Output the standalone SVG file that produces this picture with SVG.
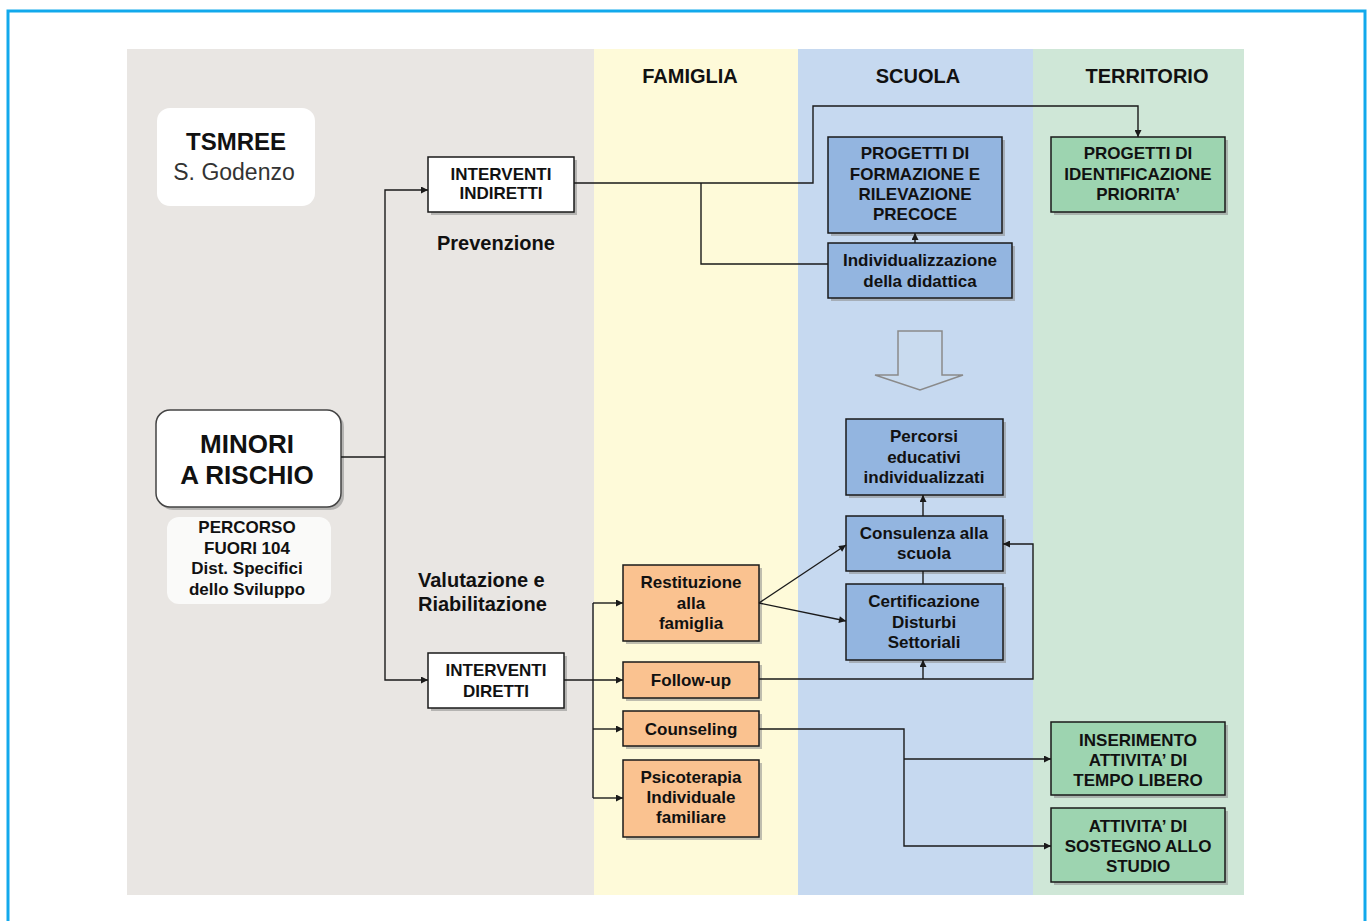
<svg xmlns="http://www.w3.org/2000/svg" width="1370" height="921" viewBox="0 0 1370 921">
<defs>
<marker id="ah" viewBox="0 0 10 10" refX="10" refY="5" markerWidth="8" markerHeight="7" orient="auto" markerUnits="userSpaceOnUse"><path d="M0,0 L10,5 L0,10 z" fill="#1a1a1a"/></marker>
<style>
.t{font-family:"Liberation Sans",Arial,sans-serif;font-weight:bold;fill:#111;text-anchor:middle}
.h{font-size:20px}
.b{font-size:17px}
.sh{fill:#8a8a8a;opacity:0.55}
.box{stroke:#1a1a1a;stroke-width:1.5}
.w{fill:#fff}
.bl{fill:#93B5E0}
.or{fill:#FAC290}
.gr{fill:#9DD4B0}
.c{fill:none;stroke:#1a1a1a;stroke-width:1.4}
.ca{fill:none;stroke:#1a1a1a;stroke-width:1.4;marker-end:url(#ah)}
</style>
</defs>
<rect x="0" y="0" width="1370" height="921" fill="#fff"/>
<rect x="8" y="11" width="1357" height="915" fill="none" stroke="#12A9EC" stroke-width="3"/>
<g id="lanes">
<rect x="127" y="49" width="467" height="846" fill="#E9E6E3"/>
<rect x="594" y="49" width="204" height="846" fill="#FEFAD9"/>
<rect x="798" y="49" width="235" height="846" fill="#C6D9F0"/>
<rect x="1033" y="49" width="211" height="846" fill="#CFE7D7"/>
<text class="t h" x="690" y="83">FAMIGLIA</text>
<text class="t h" x="918" y="83">SCUOLA</text>
<text class="t h" x="1147" y="83">TERRITORIO</text>
</g>
<g id="tsmree">
<rect x="157" y="108" width="158" height="98" rx="13" fill="#fff"/>
<text class="t" x="236" y="150" font-size="24">TSMREE</text>
<text class="t" x="234" y="180" font-size="23" font-weight="normal" style="font-weight:normal;fill:#333">S. Godenzo</text>
</g>
<g id="minori">
<rect x="159" y="413" width="185" height="97" rx="14" class="sh"/>
<rect x="156" y="410" width="185" height="97" rx="14" fill="#fff" stroke="#444" stroke-width="1.5"/>
<text class="t" x="247" y="453" font-size="26">MINORI</text>
<text class="t" x="247" y="484" font-size="26">A RISCHIO</text>
</g>
<g id="percorso">
<rect x="167" y="517" width="164" height="87" rx="12" fill="#FAFAF9"/>
<text class="t b" x="247" y="533">PERCORSO</text>
<text class="t b" x="247" y="554">FUORI 104</text>
<text class="t b" x="247" y="574">Dist. Specifici</text>
<text class="t b" x="247" y="595">dello Sviluppo</text>
</g>
<g id="labels">
<text class="t h" x="437" y="250" style="text-anchor:start">Prevenzione</text>
<text class="t h" x="418" y="587" style="text-anchor:start">Valutazione e</text>
<text class="t h" x="418" y="611" style="text-anchor:start">Riabilitazione</text>
</g>
<g id="interventi-indiretti">
<rect x="431" y="160" width="146" height="55" class="sh"/>
<rect x="428" y="157" width="146" height="55" class="box w"/>
<text class="t b" x="501" y="180">INTERVENTI</text>
<text class="t b" x="501" y="199">INDIRETTI</text>
</g>
<g id="interventi-diretti">
<rect x="431" y="656" width="136" height="55" class="sh"/>
<rect x="428" y="653" width="136" height="55" class="box w"/>
<text class="t b" x="496" y="676">INTERVENTI</text>
<text class="t b" x="496" y="697">DIRETTI</text>
</g>
<g id="progetti-formazione">
<rect x="831" y="140" width="174" height="96" class="sh"/>
<rect x="828" y="137" width="174" height="96" class="box bl"/>
<text class="t b" x="915" y="159">PROGETTI DI</text>
<text class="t b" x="915" y="180">FORMAZIONE E</text>
<text class="t b" x="915" y="200">RILEVAZIONE</text>
<text class="t b" x="915" y="220">PRECOCE</text>
</g>
<g id="individualizzazione">
<rect x="831" y="246" width="184" height="55" class="sh"/>
<rect x="828" y="243" width="184" height="55" class="box bl"/>
<text class="t b" x="920" y="266">Individualizzazione</text>
<text class="t b" x="920" y="287">della didattica</text>
</g>
<g id="progetti-identificazione">
<rect x="1054" y="140" width="174" height="75" class="sh"/>
<rect x="1051" y="137" width="174" height="75" class="box gr"/>
<text class="t b" x="1138" y="159">PROGETTI DI</text>
<text class="t b" x="1138" y="180">IDENTIFICAZIONE</text>
<text class="t b" x="1138" y="200">PRIORITA’</text>
</g>
<g id="big-arrow">
<polygon points="898,331 942,331 942,375 963,375 920,390 875,375 898,375" fill="#C9DBEF" stroke="#8a8a8a" stroke-width="1.5"/>
</g>
<g id="percorsi-educativi">
<rect x="849" y="422" width="157" height="76" class="sh"/>
<rect x="846" y="419" width="157" height="76" class="box bl"/>
<text class="t b" x="924" y="442">Percorsi</text>
<text class="t b" x="924" y="463">educativi</text>
<text class="t b" x="924" y="483">individualizzati</text>
</g>
<g id="consulenza">
<rect x="849" y="519" width="157" height="55" class="sh"/>
<rect x="846" y="516" width="157" height="55" class="box bl"/>
<text class="t b" x="924" y="539">Consulenza alla</text>
<text class="t b" x="924" y="559">scuola</text>
</g>
<g id="certificazione">
<rect x="849" y="587" width="157" height="76" class="sh"/>
<rect x="846" y="584" width="157" height="76" class="box bl"/>
<text class="t b" x="924" y="607">Certificazione</text>
<text class="t b" x="924" y="628">Disturbi</text>
<text class="t b" x="924" y="648">Settoriali</text>
</g>
<g id="restituzione">
<rect x="626" y="568" width="136" height="76" class="sh"/>
<rect x="623" y="565" width="136" height="76" class="box or"/>
<text class="t b" x="691" y="588">Restituzione</text>
<text class="t b" x="691" y="609">alla</text>
<text class="t b" x="691" y="629">famiglia</text>
</g>
<g id="follow-up">
<rect x="626" y="665" width="136" height="36" class="sh"/>
<rect x="623" y="662" width="136" height="36" class="box or"/>
<text class="t b" x="691" y="686">Follow-up</text>
</g>
<g id="counseling">
<rect x="626" y="714" width="136" height="35" class="sh"/>
<rect x="623" y="711" width="136" height="35" class="box or"/>
<text class="t b" x="691" y="735">Counseling</text>
</g>
<g id="psicoterapia">
<rect x="626" y="763" width="136" height="77" class="sh"/>
<rect x="623" y="760" width="136" height="77" class="box or"/>
<text class="t b" x="691" y="783">Psicoterapia</text>
<text class="t b" x="691" y="803">Individuale</text>
<text class="t b" x="691" y="823">familiare</text>
</g>
<g id="inserimento">
<rect x="1054" y="725" width="174" height="73" class="sh"/>
<rect x="1051" y="722" width="174" height="73" class="box gr"/>
<text class="t b" x="1138" y="746">INSERIMENTO</text>
<text class="t b" x="1138" y="766">ATTIVITA’ DI</text>
<text class="t b" x="1138" y="786">TEMPO LIBERO</text>
</g>
<g id="sostegno">
<rect x="1054" y="811" width="174" height="74" class="sh"/>
<rect x="1051" y="808" width="174" height="74" class="box gr"/>
<text class="t b" x="1138" y="832">ATTIVITA’ DI</text>
<text class="t b" x="1138" y="852">SOSTEGNO ALLO</text>
<text class="t b" x="1138" y="872">STUDIO</text>
</g>
<g id="connectors">
<path class="c" d="M341,457 H385"/>
<path class="ca" d="M385,457 V190 H428"/>
<path class="ca" d="M385,457 V680 H428"/>
<path class="ca" d="M574,183 H813 V106 H1138 V137"/>
<path class="c" d="M701,183 V264 H828"/>
<path class="ca" d="M915,243 V233"/>
<path class="ca" d="M564,680 H623"/>
<path class="c" d="M593,603 V798"/>
<path class="ca" d="M593,603 H623"/>
<path class="ca" d="M593,729 H623"/>
<path class="ca" d="M593,798 H623"/>
<path class="ca" d="M759,603 L846,545"/>
<path class="ca" d="M759,603 L846,621"/>
<path class="ca" d="M923,516 V495"/>
<path class="c" d="M923,571 V584"/>
<path class="ca" d="M759,679 H1033 V544 H1003"/>
<path class="ca" d="M923,679 V660"/>
<path class="ca" d="M759,729 H904 V846 H1051"/>
<path class="ca" d="M904,759 H1051"/>
</g>
</svg>
